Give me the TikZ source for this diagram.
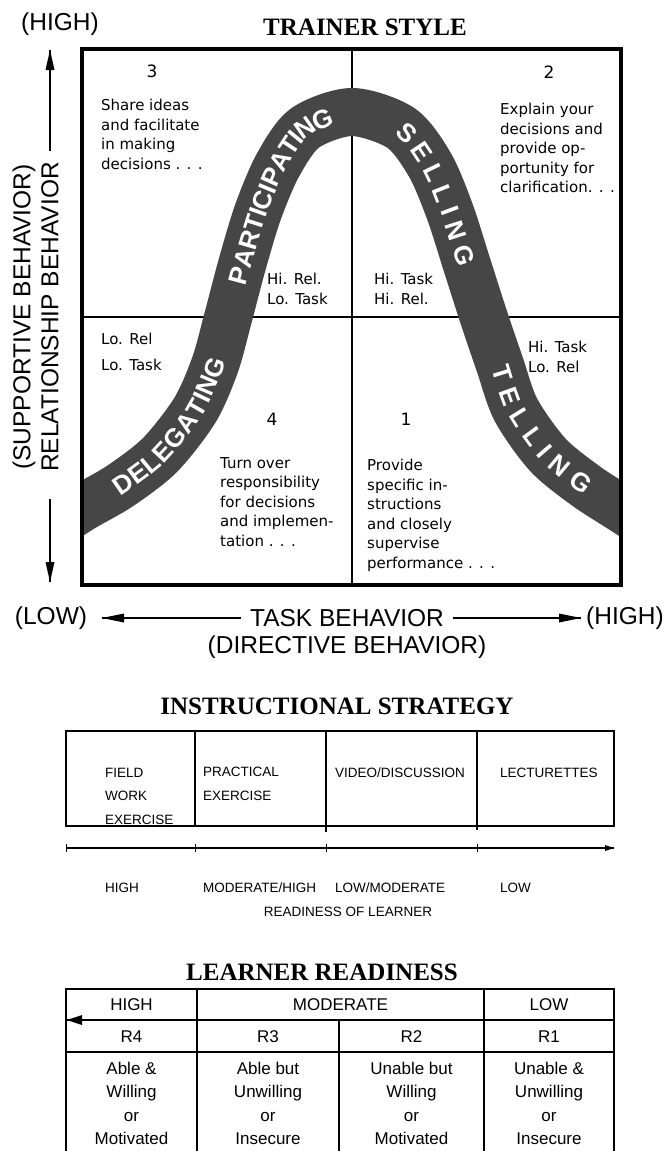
\documentclass[tikz,border=0pt]{standalone}
\usepackage{fontspec}
\setmainfont{Liberation Sans}
\newfontfamily\quadfont{DejaVu Sans}
\newfontfamily\titlefont{Liberation Serif}
\usetikzlibrary{decorations.text}
\definecolor{bandgray}{RGB}{70,70,70}
\newcommand{\bandfont}{\fontsize{26}{26}\selectfont\bfseries}

\begin{document}
\begin{tikzpicture}[x=1pt,y=1pt,
		bandword/.style 2 args={decorate,decoration={text along path,text={|\bandfont|#1},text color=white,text align={left indent=#2pt},raise=-9pt}}]
	\tikzstyle{every node}+=[inner sep=0pt]
	\tikzstyle{title}=[font=\titlefont\bfseries\fontsize{25}{25}\selectfont]
	\tikzstyle{axis}=[font=\fontsize{24.5}{24.5}\selectfont]
	\tikzstyle{num}=[font=\quadfont\fontsize{17}{17}\selectfont]
	\tikzstyle{quad}=[font=\quadfont\fontsize{15}{19.5}\selectfont,align=left,anchor=north west]
	\tikzstyle{small}=[font=\fontsize{13.5}{23.5}\selectfont,align=left]
	\tikzstyle{cell}=[font=\fontsize{17}{23.3}\selectfont,align=center]
	\useasboundingbox (0,0) rectangle (667,-1151);

	% trainer style grid
	\node [title] (trainer) at (365,-27) {TRAINER STYLE};
	\draw [line width=1.2] (352,-49) -- (352,-585);
	\draw [line width=1.2] (82,-317) -- (621,-317);
	\begin{scope}
		\clip (82,-49) rectangle (621,-585);
		\draw [bandgray,line width=48,
			postaction={bandword={DELEGATING}{88}},
			postaction={bandword={PARTICIPATING}{335}},
			postaction={bandword={S E L L I N G}{608}},
			postaction={bandword={T E L L I N G}{870}}]
			plot [smooth] coordinates {(40,-535) (82,-508) (120,-486) (160,-455) (195,-410) (215,-365) (228,-318) (242,-265) (258,-212) (278,-165) (305,-128) (352,-112) (401,-128) (430,-165) (450,-212) (467,-265) (484,-318) (500,-365) (516,-410) (548,-455) (586,-486) (620,-508) (662,-535)};
	\end{scope}
	\draw [line width=3.5] (82,-49) rectangle (621,-585);

	% quadrants
	\node [num] (q3num) at (152,-71) {3};
	\node [num] (q2num) at (549,-72) {2};
	\node [num] (q4num) at (272,-419) {4};
	\node [num] (q1num) at (406,-419) {1};
	\node [quad] (q3text) at (101,-99) {Share ideas\\and facilitate\\in making\\decisions . . .};
	\node [quad] (q2text) at (500,-103) {Explain your\\decisions and\\provide op-\\portunity for\\clarification. . .};
	\node [quad] (hirel) at (267,-273) {Hi. Rel.\\Lo. Task};
	\node [quad] (hitask) at (374,-273) {Hi. Task\\Hi. Rel.};
	\node [quad,font=\quadfont\fontsize{15}{26}\selectfont] (lorel) at (101,-333) {Lo. Rel\\Lo. Task};
	\node [quad] (hitasklo) at (528,-341) {Hi. Task\\Lo. Rel};
	\node [quad] (q4text) at (220,-457) {Turn over\\responsibility\\for decisions\\and implemen-\\tation . . .};
	\node [quad] (q1text) at (367,-459) {Provide\\specific in-\\structions\\and closely\\supervise\\performance . . .};

	% axes
	\node [axis] (tophigh) at (60,-24) {(HIGH)};
	\node [axis,rotate=90] (support) at (24,-317) {(SUPPORTIVE BEHAVIOR)};
	\node [axis,rotate=90] (relation) at (50,-317) {RELATIONSHIP BEHAVIOR};
	\coordinate (uptip) at (50,-50);
	\coordinate (downtip) at (50,-582);
	\draw [line width=1.3] (relation.east) ++(0,11) -- (uptip);
	\fill (uptip) -- ++(-4.5,-20) -- ++(9,0) -- cycle;
	\draw [line width=1.3] (relation.west) ++(0,-27) -- (downtip);
	\fill (downtip) -- ++(-4.5,20) -- ++(9,0) -- cycle;
	\node [axis] (lowx) at (51,-618) {(LOW)};
	\node [axis] (task) at (347,-618) {TASK BEHAVIOR};
	\node [axis] (highx) at (625,-618) {(HIGH)};
	\node [axis] (directive) at (347,-647) {(DIRECTIVE BEHAVIOR)};
	\coordinate (lefttip) at (102,-618);
	\coordinate (righttip) at (581,-618);
	\draw [line width=1.3] (task.west) ++(-9,0) -- (lefttip);
	\fill (lefttip) -- ++(22,4.5) -- ++(0,-9) -- cycle;
	\draw [line width=1.3] (task.east) ++(9,0) -- (righttip);
	\fill (righttip) -- ++(-22,4.5) -- ++(0,-9) -- cycle;

	% instructional strategy
	\node [title] (strategy) at (337,-706) {INSTRUCTIONAL STRATEGY};
	\draw [line width=1.4] (66,-731) rectangle (614,-826);
	\draw [line width=1.2] (195,-731) -- (195,-826);
	\draw [line width=1.2] (326,-731) -- (326,-832);
	\draw [line width=1.2] (477,-731) -- (477,-830);
	\node [small,anchor=north west] (field) at (105,-768) {FIELD\\WORK\\EXERCISE};
	\node [small,anchor=north west] (practical) at (203,-767) {PRACTICAL\\EXERCISE};
	\node [small,anchor=north west] (video) at (335,-768) {VIDEO/DISCUSSION};
	\node [small,anchor=north west] (lecture) at (500,-768) {LECTURETTES};
	\draw [line width=1.2] (66,-848) -- (614,-848);
	\foreach \x in {66,195,326,477} \draw (\x,-844) -- (\x,-852);
	\fill (614,-848) -- ++(-9,3) -- ++(0,-6) -- cycle;
	\node [small,anchor=west] (rhigh) at (105,-888) {HIGH};
	\node [small,anchor=west] (rmodhigh) at (203,-888) {MODERATE/HIGH};
	\node [small,anchor=west] (rlowmod) at (335,-888) {LOW/MODERATE};
	\node [small,anchor=west] (rlow) at (500,-888) {LOW};
	\node [small] (readiness) at (348,-912) {READINESS OF LEARNER};

	% learner readiness
	\node [title] (learner) at (322,-972) {LEARNER READINESS};
	\draw [line width=1.4] (66,-1151) -- (66,-989) -- (614,-989) -- (614,-1151);
	\draw [line width=1.4] (66,-1020) -- (614,-1020);
	\draw [line width=1.4] (66,-1052) -- (614,-1052);
	\draw [line width=1.4] (197,-989) -- (197,-1151);
	\draw [line width=1.4] (484,-989) -- (484,-1151);
	\draw [line width=1.4] (339,-1020) -- (339,-1151);
	\fill (67,-1020) -- ++(15,5) -- ++(0,-10) -- cycle;
	\node [cell] (thigh) at (131.5,-1005) {HIGH};
	\node [cell] (tmod) at (340.5,-1005) {MODERATE};
	\node [cell] (tlow) at (549,-1005) {LOW};
	\node [cell] (r4) at (131.5,-1037) {R4};
	\node [cell] (r3) at (268,-1037) {R3};
	\node [cell] (r2) at (411.5,-1037) {R2};
	\node [cell] (r1) at (549,-1037) {R1};
	\node [cell,anchor=north] (d4) at (131.5,-1062) {Able \&\\Willing\\or\\Motivated};
	\node [cell,anchor=north] (d3) at (268,-1062) {Able but\\Unwilling\\or\\Insecure};
	\node [cell,anchor=north] (d2) at (411.5,-1062) {Unable but\\Willing\\or\\Motivated};
	\node [cell,anchor=north] (d1) at (549,-1062) {Unable \&\\Unwilling\\or\\Insecure};
\end{tikzpicture}
\end{document}
